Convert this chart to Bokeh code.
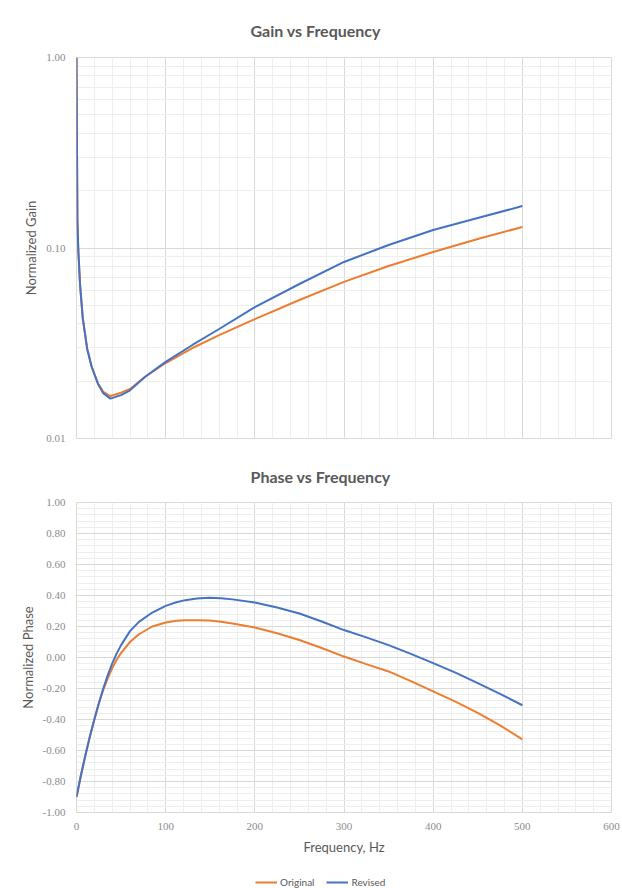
from bokeh.plotting import figure
from bokeh.models import FixedTicker, NumeralTickFormatter, Range1d
from bokeh.layouts import column
from bokeh.embed import file_html
from bokeh.resources import INLINE
import numpy as np

# ---- data ----
gain_freq = [0, 1, 2, 4, 7, 12, 17, 24, 30, 38, 50, 60, 77, 100, 130, 160, 200, 250, 300, 350, 400, 450, 500]
gain_original = [1.0, 0.14, 0.098, 0.064, 0.043, 0.0295, 0.0238, 0.0195, 0.0176, 0.0167, 0.0174, 0.0182, 0.0211,
                 0.0249, 0.02985, 0.0349, 0.04236, 0.05333, 0.06637, 0.08046, 0.09527, 0.1115, 0.1289]
gain_revised = [1.0, 0.14, 0.098, 0.064, 0.043, 0.0295, 0.0238, 0.0194, 0.0173, 0.0162, 0.0169, 0.0179, 0.0211,
                0.02523, 0.03097, 0.03757, 0.04898, 0.06471, 0.08446, 0.1037, 0.1242, 0.1436, 0.1660]

phase_freq = [0, 5, 10, 15, 20, 25, 30, 35, 40, 45, 50, 60, 70, 85, 100, 112, 122, 135, 149, 162, 175, 200,
              225, 250, 275, 300, 325, 350, 375, 400, 425, 450, 475, 500]
phase_original = [-0.90, -0.76, -0.63, -0.51, -0.40, -0.30, -0.21, -0.135, -0.07, -0.015, 0.03, 0.10, 0.15, 0.20,
                  0.226, 0.237, 0.241, 0.241, 0.238, 0.230, 0.22, 0.194, 0.156, 0.113, 0.061, 0.006, -0.043,
                  -0.09, -0.152, -0.218, -0.285, -0.357, -0.438, -0.528]
phase_revised = [-0.90, -0.76, -0.63, -0.51, -0.40, -0.295, -0.20, -0.115, -0.04, 0.025, 0.08, 0.17, 0.23, 0.29,
                 0.333, 0.356, 0.37, 0.380, 0.385, 0.382, 0.375, 0.355, 0.322, 0.284, 0.232, 0.177, 0.13,
                 0.08, 0.023, -0.036, -0.098, -0.165, -0.235, -0.308]

series_names = ["Original", "Revised"]
x_ticks = [0, 100, 200, 300, 400, 500, 600]
gain_ticks = [0.01, 0.1, 1.0]
phase_ticks = [-1.0, -0.8, -0.6, -0.4, -0.2, 0.0, 0.2, 0.4, 0.6, 0.8, 1.0]

ORANGE = "#ED7D31"
BLUE = "#4472C4"
TITLE_C = "#595959"
TICK_C = "#8c8c8c"
SANS = "Lato"
SERIF = "Liberation Serif"

x_minor = list(range(0, 601, 20))
gain_minor = [m * 10.0 ** e for e in (-2, -1) for m in range(1, 10)]
phase_minor = [round(v, 2) for v in np.arange(-1.0, 1.0001, 0.04)]


def style(p, title, standoff):
    p.title.text = title
    p.title.align = "left"
    p.title.text_font = SANS
    p.title.text_font_size = "16px"
    p.title.text_font_style = "bold"
    p.title.text_color = TITLE_C
    p.title.offset = 174
    p.title.standoff = standoff
    p.outline_line_color = "#d9d9d9"
    p.background_fill_color = "white"
    p.border_fill_color = "white"
    for ax in (p.xaxis, p.yaxis):
        ax.axis_line_color = None
        ax.major_tick_line_color = None
        ax.minor_tick_line_color = None
        ax.major_tick_out = 0
        ax.minor_tick_out = 0
        ax.major_tick_in = 0
        ax.minor_tick_in = 0
        ax.major_label_text_font = SERIF
        ax.major_label_text_font_size = "11px"
        ax.major_label_text_color = TICK_C
        ax.axis_label_text_font = SANS
        ax.axis_label_text_font_size = "13px"
        ax.axis_label_text_font_style = "normal"
        ax.axis_label_text_color = TITLE_C
    p.xgrid.grid_line_color = "#d9d9d9"
    p.ygrid.grid_line_color = "#d9d9d9"
    p.xgrid.minor_grid_line_color = "#eeeeee"
    p.ygrid.minor_grid_line_color = "#eeeeee"


# ---- Gain chart ----
p1 = figure(width=622, height=447, y_axis_type="log",
            x_range=Range1d(0, 600), y_range=Range1d(0.01, 1.0),
            output_backend="svg", toolbar_location=None,
            min_border_left=75, min_border_right=11, min_border_top=57, min_border_bottom=9)
style(p1, "Gain vs Frequency", 35)
p1.xaxis.ticker = FixedTicker(ticks=x_ticks, minor_ticks=x_minor)
p1.yaxis.ticker = FixedTicker(ticks=gain_ticks, minor_ticks=gain_minor)
p1.yaxis.formatter = NumeralTickFormatter(format="0.00")
p1.yaxis.axis_label = "Normalized Gain"
p1.yaxis.major_label_standoff = 11
p1.yaxis.axis_label_standoff = 4
p1.xaxis.visible = False
p1.line(gain_freq, gain_original, color=ORANGE, line_width=2)
p1.line(gain_freq, gain_revised, color=BLUE, line_width=2)

# ---- Phase chart ----
p2 = figure(width=622, height=419,
            x_range=Range1d(0, 600), y_range=Range1d(-1.0, 1.0),
            output_backend="svg", toolbar_location=None,
            min_border_left=76, min_border_right=11, min_border_top=53, min_border_bottom=54)
style(p2, "Phase vs Frequency", 34)
p2.xaxis.ticker = FixedTicker(ticks=x_ticks, minor_ticks=x_minor)
p2.yaxis.ticker = FixedTicker(ticks=phase_ticks, minor_ticks=phase_minor)
p2.yaxis.formatter = NumeralTickFormatter(format="0.00")
p2.yaxis.axis_label = "Normalized Phase"
p2.xaxis.axis_label = "Frequency, Hz"
p2.yaxis.major_label_standoff = 11
p2.yaxis.axis_label_standoff = 4
p2.xaxis.major_label_standoff = 10
p2.xaxis.axis_label_standoff = 6
p2.line(phase_freq, phase_original, color=ORANGE, line_width=2)
p2.line(phase_freq, phase_revised, color=BLUE, line_width=2)

# ---- Legend strip (its lines lie outside its range; only the legend shows) ----
p3 = figure(width=622, height=22, x_range=Range1d(1000, 1001), y_range=Range1d(0, 1),
            output_backend="svg", toolbar_location=None, min_border=0)
p3.outline_line_color = None
p3.axis.visible = False
p3.grid.visible = False
p3.line(phase_freq, phase_original, color=ORANGE, line_width=2, legend_label=series_names[0])
p3.line(phase_freq, phase_revised, color=BLUE, line_width=2, legend_label=series_names[1])
lg = p3.legend[0]
lg.orientation = "horizontal"
lg.location = (179, 0)
lg.label_text_font = SANS
lg.label_text_font_size = "10px"
lg.label_text_color = TITLE_C
lg.glyph_width = 22
lg.glyph_height = 10
lg.label_standoff = 3
lg.spacing = 12
lg.padding = 2
lg.margin = 0
lg.border_line_color = None
lg.background_fill_alpha = 0

layout = column(p1, p2, p3, spacing=0)
open("out.html", "w").write(file_html(layout, INLINE))
